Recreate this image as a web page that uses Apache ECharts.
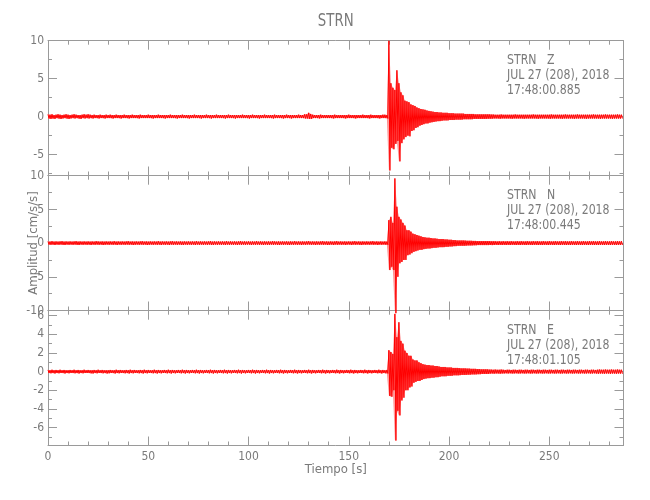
<!DOCTYPE html>
<html><head><meta charset="utf-8">
<script src="https://cdn.jsdelivr.net/npm/echarts@6/dist/echarts.min.js"></script>
<style>html,body{margin:0;padding:0;background:#fff}#c{width:650px;height:500px}</style>
</head><body><div id="c"></div>
<script>
// ---------------- data ----------------
const stationName = 'STRN';
const componentNames = ['Z', 'N', 'E'];
const dateText = 'JUL 27 (208), 2018';
const startTimes = ['17:48:00.885', '17:48:00.445', '17:48:01.105'];
const xTitle = 'Tiempo [s]';
const yTitle = 'Amplitud [cm/s/s]';
const timeMax = 287;
const sampleStart = 0;     // s, first envelope bin
const sampleStep = 1;      // s, envelope bin width
const xMajorTicks = [0, 50, 100, 150, 200, 250];
const xMinorTicks = [10, 20, 30, 40, 60, 70, 80, 90, 110, 120, 130, 140, 160, 170, 180, 190, 210, 220, 230, 240, 260, 270, 280];
const yRanges = [[-7.76, 10], [-10, 10], [-7.93, 6.54]];
const yMajorTicks = [[-5, 0, 5, 10], [-10, -5, 0, 5, 10], [-6, -4, -2, 0, 2, 4, 6]];
const yMinorTicks = [[-7.5, -2.5, 2.5, 7.5], [-7.5, -2.5, 2.5, 7.5], [-7, -5, -3, -1, 1, 3, 5]];

// per-second envelope (max / min), cm/s/s
const zHi = [
.3,.25,.3,.2,.25,.3,.25,.2,.25,.3,
.25,.2,.25,.3,.25,.2,.2,.25,.3,.25,
.3,.25,.2,.25,.2,.2,.25,.2,.2,.25,
.2,.25,.2,.2,.25,.2,.2,.2,.25,.2,
.2,.2,.25,.2,.2,.2,.25,.2,.2,.2,
.25,.2,.2,.2,.2,.25,.2,.2,.2,.2,
.2,.25,.2,.2,.2,.2,.2,.25,.2,.2,
.2,.2,.2,.25,.2,.2,.2,.2,.2,.25,
.2,.2,.2,.2,.25,.2,.2,.2,.2,.2,
.25,.2,.2,.2,.2,.2,.2,.25,.2,.2,
.2,.2,.25,.2,.2,.2,.2,.2,.25,.2,
.2,.2,.2,.25,.2,.2,.2,.2,.2,.25,
.2,.2,.2,.2,.2,.25,.2,.2,.3,.3,
.5,.35,.25,.2,.2,.2,.25,.2,.2,.2,
.2,.2,.2,.25,.2,.2,.2,.2,.2,.2,
.25,.2,.2,.2,.2,.2,.2,.25,.2,.2,
.2,.25,.2,.2,.2,.2,.2,.25,.25,.2,
10,4.4,3.8,3.5,6.1,4.4,3.2,2.8,2.1,2.0,
1.9,1.6,1.5,1.4,1.2,1.1,1.0,.95,.9,.8,
.75,.7,.65,.6,.6,.55,.55,.5,.5,.5,
.45,.45,.45,.4,.4,.4,.4,.4,.35,.35,
.35,.35,.35,.3,.3,.3,.3,.3,.3,.3,
.3,.28,.28,.25,.25,.25,.28,.25,.25,.25,
.25,.25,.25,.28,.25,.25,.25,.25,.25,.25,
.25,.25,.28,.25,.25,.25,.25,.25,.25,.25,
.25,.28,.25,.25,.25,.25,.25,.25,.28,.25,
.25,.25,.25,.25,.28,.25,.25,.25,.25,.25,
.25,.25,.28,.25,.25,.25,.25,.25,.28,.25,
.25,.25,.25,.25,.28,.25,.25];
const zLo = [
-.25,-.3,-.25,-.3,-.2,-.25,-.3,-.25,-.2,-.25,
-.3,-.25,-.2,-.25,-.2,-.25,-.3,-.2,-.25,-.2,
-.25,-.2,-.25,-.2,-.2,-.25,-.2,-.2,-.25,-.2,
-.2,-.2,-.25,-.2,-.2,-.2,-.25,-.2,-.2,-.2,
-.25,-.2,-.2,-.2,-.2,-.25,-.2,-.2,-.2,-.2,
-.2,-.2,-.25,-.2,-.2,-.2,-.2,-.2,-.25,-.2,
-.2,-.2,-.2,-.2,-.25,-.2,-.2,-.2,-.2,-.2,
-.25,-.2,-.2,-.2,-.2,-.2,-.25,-.2,-.2,-.2,
-.2,-.25,-.2,-.2,-.2,-.2,-.2,-.2,-.25,-.2,
-.2,-.2,-.2,-.25,-.2,-.2,-.2,-.2,-.2,-.2,
-.25,-.2,-.2,-.2,-.2,-.25,-.2,-.2,-.2,-.2,
-.2,-.2,-.25,-.2,-.2,-.2,-.2,-.25,-.2,-.2,
-.2,-.25,-.2,-.2,-.2,-.2,-.2,-.2,-.25,-.25,
-.3,-.3,-.2,-.2,-.2,-.25,-.2,-.2,-.2,-.2,
-.2,-.2,-.25,-.2,-.2,-.2,-.2,-.2,-.25,-.2,
-.2,-.2,-.2,-.25,-.2,-.2,-.2,-.2,-.2,-.2,
-.25,-.2,-.2,-.2,-.2,-.25,-.2,-.2,-.2,-.25,
-7.1,-4.1,-4.3,-3.6,-3.2,-5.9,-3.5,-3.0,-2.7,-2.5,
-2.6,-1.9,-1.8,-1.5,-1.4,-1.2,-1.1,-1.0,-.9,-.9,
-.8,-.75,-.7,-.65,-.6,-.6,-.55,-.5,-.5,-.5,
-.45,-.45,-.45,-.4,-.4,-.4,-.4,-.35,-.35,-.35,
-.35,-.35,-.3,-.3,-.3,-.3,-.3,-.3,-.3,-.28,
-.28,-.28,-.25,-.25,-.25,-.28,-.25,-.25,-.25,-.25,
-.25,-.28,-.25,-.25,-.25,-.25,-.25,-.28,-.25,-.25,
-.25,-.25,-.25,-.25,-.28,-.25,-.25,-.25,-.25,-.25,
-.28,-.25,-.25,-.25,-.25,-.25,-.28,-.25,-.25,-.25,
-.25,-.25,-.28,-.25,-.25,-.25,-.25,-.25,-.28,-.25,
-.25,-.25,-.25,-.25,-.25,-.28,-.25,-.25,-.25,-.25,
-.25,-.28,-.25,-.25,-.25,-.25,-.25];
const nHi = [
.25,.22,.28,.22,.25,.22,.25,.28,.22,.25,
.22,.25,.22,.25,.28,.22,.25,.22,.25,.22,
.25,.22,.25,.22,.28,.25,.22,.25,.22,.25,
.22,.25,.22,.28,.22,.25,.22,.25,.22,.25,
.28,.22,.25,.22,.25,.22,.25,.28,.22,.25,
.22,.25,.22,.25,.22,.28,.22,.25,.22,.25,
.22,.25,.28,.22,.25,.22,.25,.22,.25,.22,
.25,.22,.25,.22,.28,.22,.25,.22,.25,.22,
.25,.28,.22,.25,.22,.25,.22,.25,.22,.28,
.22,.25,.22,.25,.22,.25,.28,.22,.25,.22,
.25,.22,.25,.22,.28,.22,.25,.22,.25,.22,
.25,.22,.28,.25,.22,.25,.22,.25,.22,.25,
.22,.25,.22,.28,.22,.25,.22,.25,.22,.25,
.28,.22,.25,.22,.25,.22,.25,.28,.22,.25,
.22,.25,.22,.25,.28,.22,.25,.22,.25,.22,
.25,.22,.25,.28,.22,.25,.22,.25,.22,.25,
.22,.25,.28,.22,.25,.22,.25,.22,.25,.22,
3.4,3.9,3.0,9.6,5.4,3.9,3.5,3.0,2.6,1.9,
1.9,1.7,1.4,1.3,1.2,1.1,1.0,.9,.85,.8,
.8,.75,.7,.7,.65,.6,.6,.6,.55,.55,
.5,.5,.45,.45,.4,.4,.4,.4,.38,.35,
.35,.35,.33,.33,.3,.3,.3,.3,.3,.3,
.3,.28,.28,.28,.25,.28,.25,.28,.25,.28,
.25,.28,.25,.25,.28,.25,.28,.25,.25,.28,
.25,.25,.28,.25,.28,.25,.25,.28,.25,.25,
.28,.25,.25,.28,.25,.25,.28,.25,.28,.25,
.25,.28,.25,.25,.28,.25,.25,.28,.25,.25,
.28,.25,.28,.25,.25,.28,.25,.25,.28,.25,
.25,.28,.25,.25,.28,.25,.28];
const nLo = [
-.22,-.25,-.22,-.28,-.22,-.25,-.22,-.25,-.28,-.22,
-.25,-.22,-.25,-.22,-.25,-.28,-.22,-.25,-.22,-.25,
-.22,-.28,-.22,-.25,-.22,-.25,-.22,-.28,-.25,-.22,
-.25,-.22,-.25,-.22,-.28,-.22,-.25,-.22,-.25,-.22,
-.25,-.22,-.28,-.25,-.22,-.25,-.22,-.25,-.22,-.28,
-.25,-.22,-.25,-.22,-.25,-.22,-.28,-.22,-.25,-.22,
-.28,-.22,-.25,-.22,-.25,-.22,-.25,-.28,-.22,-.25,
-.22,-.25,-.22,-.28,-.22,-.25,-.22,-.25,-.22,-.25,
-.22,-.25,-.28,-.22,-.25,-.22,-.25,-.22,-.28,-.22,
-.25,-.22,-.25,-.22,-.28,-.22,-.25,-.22,-.25,-.22,
-.22,-.28,-.22,-.25,-.22,-.25,-.22,-.28,-.22,-.25,
-.25,-.22,-.25,-.22,-.25,-.28,-.22,-.25,-.22,-.25,
-.28,-.22,-.25,-.22,-.25,-.22,-.28,-.22,-.25,-.22,
-.22,-.25,-.22,-.28,-.22,-.25,-.22,-.25,-.22,-.28,
-.25,-.22,-.28,-.22,-.25,-.22,-.25,-.22,-.28,-.22,
-.22,-.28,-.22,-.25,-.22,-.25,-.28,-.22,-.25,-.22,
-.25,-.22,-.25,-.22,-.28,-.22,-.25,-.22,-.25,-.25,
-4.0,-3.5,-4.0,-10.4,-5.0,-3.0,-2.8,-2.5,-2.5,-1.8,
-1.7,-1.5,-1.3,-1.2,-1.1,-1.0,-1.0,-.9,-.85,-.8,
-.8,-.75,-.7,-.7,-.65,-.6,-.6,-.6,-.55,-.55,
-.5,-.5,-.45,-.45,-.4,-.4,-.4,-.4,-.38,-.35,
-.35,-.35,-.33,-.33,-.3,-.3,-.3,-.3,-.3,-.3,
-.28,-.3,-.28,-.25,-.28,-.25,-.28,-.25,-.28,-.25,
-.28,-.25,-.25,-.28,-.25,-.28,-.25,-.25,-.28,-.25,
-.25,-.28,-.25,-.25,-.28,-.25,-.28,-.25,-.25,-.28,
-.25,-.25,-.28,-.25,-.25,-.28,-.25,-.25,-.28,-.25,
-.28,-.25,-.25,-.28,-.25,-.25,-.28,-.25,-.25,-.28,
-.25,-.25,-.28,-.25,-.28,-.25,-.25,-.28,-.25,-.25,
-.28,-.25,-.25,-.28,-.25,-.25,-.28];
const eHi = [
.18,.15,.2,.15,.18,.15,.2,.15,.18,.15,
.15,.18,.15,.2,.15,.18,.15,.15,.2,.15,
.18,.15,.15,.18,.15,.2,.15,.18,.15,.15,
.15,.18,.15,.15,.2,.15,.18,.15,.15,.18,
.15,.2,.15,.18,.15,.15,.18,.15,.2,.15,
.18,.15,.15,.2,.15,.18,.15,.15,.18,.15,
.2,.15,.18,.15,.15,.18,.15,.2,.15,.18,
.15,.15,.18,.15,.2,.15,.18,.15,.15,.18,
.15,.2,.15,.18,.15,.15,.18,.15,.2,.15,
.18,.15,.15,.18,.15,.2,.15,.18,.15,.15,
.18,.15,.2,.15,.18,.15,.15,.18,.15,.2,
.15,.18,.15,.15,.18,.15,.2,.15,.18,.15,
.15,.18,.15,.2,.15,.18,.15,.15,.18,.15,
.2,.15,.18,.15,.15,.18,.15,.2,.15,.18,
.15,.15,.18,.15,.2,.15,.18,.15,.15,.18,
.15,.2,.15,.18,.15,.15,.18,.15,.2,.15,
.18,.15,.15,.18,.15,.2,.15,.18,.15,.18,
2.3,2.1,1.9,6.2,3.7,5.3,3.3,3.0,2.25,2.0,
1.7,1.7,1.3,1.2,1.2,1.0,.9,.8,.75,.7,
.7,.65,.65,.6,.6,.55,.5,.5,.5,.45,
.45,.45,.4,.4,.4,.38,.35,.35,.35,.33,
.33,.3,.3,.3,.28,.28,.25,.25,.25,.25,
.22,.22,.2,.22,.2,.2,.22,.2,.18,.2,
.2,.18,.2,.2,.18,.2,.2,.18,.2,.2,
.18,.2,.2,.18,.2,.2,.18,.2,.2,.18,
.2,.2,.18,.2,.2,.18,.2,.2,.18,.2,
.2,.18,.2,.2,.18,.2,.2,.18,.2,.2,
.18,.2,.2,.18,.2,.22,.2,.2,.22,.2,
.2,.22,.2,.2,.22,.2,.2];
const eLo = [
-.15,-.18,-.15,-.2,-.15,-.18,-.15,-.15,-.2,-.15,
-.18,-.15,-.15,-.18,-.15,-.2,-.15,-.18,-.15,-.15,
-.15,-.18,-.2,-.15,-.18,-.15,-.15,-.18,-.15,-.2,
-.18,-.15,-.15,-.2,-.15,-.18,-.15,-.15,-.18,-.15,
-.2,-.15,-.18,-.15,-.15,-.18,-.15,-.2,-.15,-.18,
-.15,-.15,-.18,-.15,-.2,-.15,-.18,-.15,-.15,-.18,
-.15,-.2,-.15,-.18,-.15,-.15,-.18,-.15,-.2,-.15,
-.18,-.15,-.15,-.18,-.15,-.2,-.15,-.18,-.15,-.15,
-.18,-.15,-.2,-.15,-.18,-.15,-.15,-.18,-.15,-.2,
-.15,-.18,-.15,-.15,-.18,-.15,-.2,-.15,-.18,-.15,
-.15,-.18,-.15,-.2,-.15,-.18,-.15,-.15,-.18,-.15,
-.2,-.15,-.18,-.15,-.15,-.18,-.15,-.2,-.15,-.18,
-.15,-.15,-.18,-.15,-.2,-.15,-.18,-.15,-.15,-.18,
-.15,-.2,-.15,-.18,-.15,-.15,-.18,-.15,-.2,-.15,
-.18,-.15,-.15,-.18,-.15,-.2,-.15,-.18,-.15,-.15,
-.18,-.15,-.2,-.15,-.18,-.15,-.15,-.18,-.15,-.2,
-.15,-.18,-.15,-.15,-.18,-.15,-.2,-.15,-.18,-.2,
-2.6,-2.7,-2.0,-7.4,-4.2,-4.7,-3.1,-2.8,-2.0,-2.0,
-1.7,-1.6,-1.2,-1.1,-1.0,-1.0,-.9,-.8,-.75,-.7,
-.7,-.65,-.65,-.6,-.6,-.55,-.5,-.5,-.5,-.45,
-.45,-.45,-.4,-.4,-.4,-.38,-.35,-.35,-.35,-.33,
-.33,-.3,-.3,-.3,-.28,-.28,-.25,-.25,-.25,-.25,
-.22,-.2,-.22,-.2,-.2,-.22,-.2,-.2,-.18,-.2,
-.18,-.2,-.2,-.18,-.2,-.2,-.18,-.2,-.2,-.18,
-.2,-.2,-.18,-.2,-.2,-.18,-.2,-.2,-.18,-.2,
-.2,-.18,-.2,-.2,-.18,-.2,-.2,-.18,-.2,-.2,
-.18,-.2,-.2,-.18,-.2,-.2,-.18,-.2,-.2,-.18,
-.2,-.2,-.18,-.2,-.22,-.2,-.2,-.22,-.2,-.2,
-.22,-.2,-.2,-.22,-.2,-.2,-.22];

// ---------------- chart ----------------
const panelHi = [zHi, nHi, eHi];
const panelLo = [zLo, nLo, eLo];
const FONT = "'DejaVu Sans Condensed','DejaVu Sans','Liberation Sans',sans-serif";
const AXIS = '#9a9a9a';
const TXT = '#7a7a7a';
const RED = '#ff0000';
const PINK = '#ff9090';
const gridLeft = 48, gridW = 575.5;
const gridTops = [40.7, 175.7, 310.7];
const gridH = 134.8;

function envelope(hi, lo) {
  const d = [];
  for (let i = 0; i < hi.length; i++) {
    const t = sampleStart + i * sampleStep;
    d.push([t, hi[i]]);
    d.push([t + sampleStep / 2, lo[i]]);
  }
  return d;
}
// one quad per envelope bin: [t0, hi0, lo0, t1, hi1, lo1]
function bandCells(hi, lo) {
  const d = [];
  for (let i = 0; i + 1 < hi.length; i++) {
    const t = sampleStart + i * sampleStep;
    d.push([t, hi[i], lo[i], t + sampleStep, hi[i + 1], lo[i + 1]]);
  }
  return d;
}
function renderBand(params, api) {
  const a = api.coord([api.value(0), api.value(1)]);
  const b = api.coord([api.value(3), api.value(4)]);
  const c = api.coord([api.value(3), api.value(5)]);
  const d = api.coord([api.value(0), api.value(2)]);
  return {type: 'polygon', shape: {points: [a, b, c, d]}, style: {fill: PINK, stroke: null}};
}

const grids = [], xAxes = [], yAxes = [], series = [], graphics = [];
for (let g = 0; g < 3; g++) {
  grids.push({left: gridLeft, top: gridTops[g], width: gridW, height: gridH, containLabel: false});
  const xBase = xAxes.length;
  const mkX = (pos, ticks, len, lineShow, labels) => ({
    type: 'value', gridIndex: g, position: pos, min: 0, max: timeMax,
    axisLine: {show: lineShow, onZero: false, lineStyle: {color: AXIS, width: 1}},
    axisTick: {show: true, inside: true, length: len, customValues: ticks, lineStyle: {color: AXIS, width: 1}},
    axisLabel: {show: labels, customValues: xMajorTicks, color: TXT, fontFamily: FONT, fontSize: 12, margin: 5},
    splitLine: {show: false}
  });
  xAxes.push(mkX('bottom', xMajorTicks, 9, true, g === 2));
  xAxes.push(mkX('bottom', xMinorTicks, 4, false, false));
  xAxes.push(mkX('top', xMajorTicks, 9, true, false));
  xAxes.push(mkX('top', xMinorTicks, 4, false, false));
  const yBase = yAxes.length;
  const mkY = (pos, ticks, len, lineShow, labels) => ({
    type: 'value', gridIndex: g, position: pos, min: yRanges[g][0], max: yRanges[g][1],
    axisLine: {show: lineShow, onZero: false, lineStyle: {color: AXIS, width: 1}},
    axisTick: {show: true, inside: true, length: len, customValues: ticks, lineStyle: {color: AXIS, width: 1}},
    axisLabel: {show: labels, customValues: yMajorTicks[g], color: TXT, fontFamily: FONT, fontSize: 12, margin: 4},
    splitLine: {show: false}
  });
  yAxes.push(mkY('left', yMajorTicks[g], 9, true, true));
  yAxes.push(mkY('left', yMinorTicks[g], 4, false, false));
  yAxes.push(mkY('right', yMajorTicks[g], 9, true, false));
  yAxes.push(mkY('right', yMinorTicks[g], 4, false, false));
  // filled envelope band
  series.push({
    type: 'custom', xAxisIndex: xBase, yAxisIndex: yBase, clip: true, silent: true, animation: false,
    data: bandCells(panelHi[g], panelLo[g]),
    encode: {x: [0, 3], y: [1, 2, 4, 5]},
    renderItem: renderBand
  });
  // oscillating trace
  series.push({
    type: 'line', xAxisIndex: xBase, yAxisIndex: yBase, showSymbol: false, symbol: 'none',
    clip: g !== 1, sampling: null, animation: false, silent: true,
    data: envelope(panelHi[g], panelLo[g]),
    lineStyle: {color: RED, width: 1}
  });
  const lines = [stationName + '   ' + componentNames[g], dateText, startTimes[g]];
  lines.forEach((s, k) => graphics.push({
    type: 'text', x: 507, y: gridTops[g] + 19.5 + k * 15, scaleX: 0.87,
    style: {text: s, fill: TXT, font: '14px ' + FONT, align: 'left', verticalAlign: 'middle',
            textAlign: 'left', textVerticalAlign: 'middle'}
  }));
}
graphics.push({type: 'text', x: gridLeft + gridW / 2, y: 21.5, scaleX: 0.87,
  style: {text: stationName, fill: TXT, font: '17px ' + FONT, align: 'center', verticalAlign: 'middle', textAlign: 'center', textVerticalAlign: 'middle'}});
graphics.push({type: 'text', x: gridLeft + gridW / 2, y: 470,
  style: {text: xTitle, fill: TXT, font: '13px ' + FONT, align: 'center', verticalAlign: 'middle', textAlign: 'center', textVerticalAlign: 'middle'}});
graphics.push({type: 'text', x: 34, y: 243, rotation: Math.PI / 2,
  style: {text: yTitle, fill: TXT, font: '13px ' + FONT, align: 'center', verticalAlign: 'middle', textAlign: 'center', textVerticalAlign: 'middle'}});

const chart = echarts.init(document.getElementById('c'), null, {renderer: 'canvas'});
chart.setOption({
  animation: false,
  backgroundColor: '#ffffff',
  grid: grids, xAxis: xAxes, yAxis: yAxes, series: series, graphic: graphics
});
</script>
</body></html>
